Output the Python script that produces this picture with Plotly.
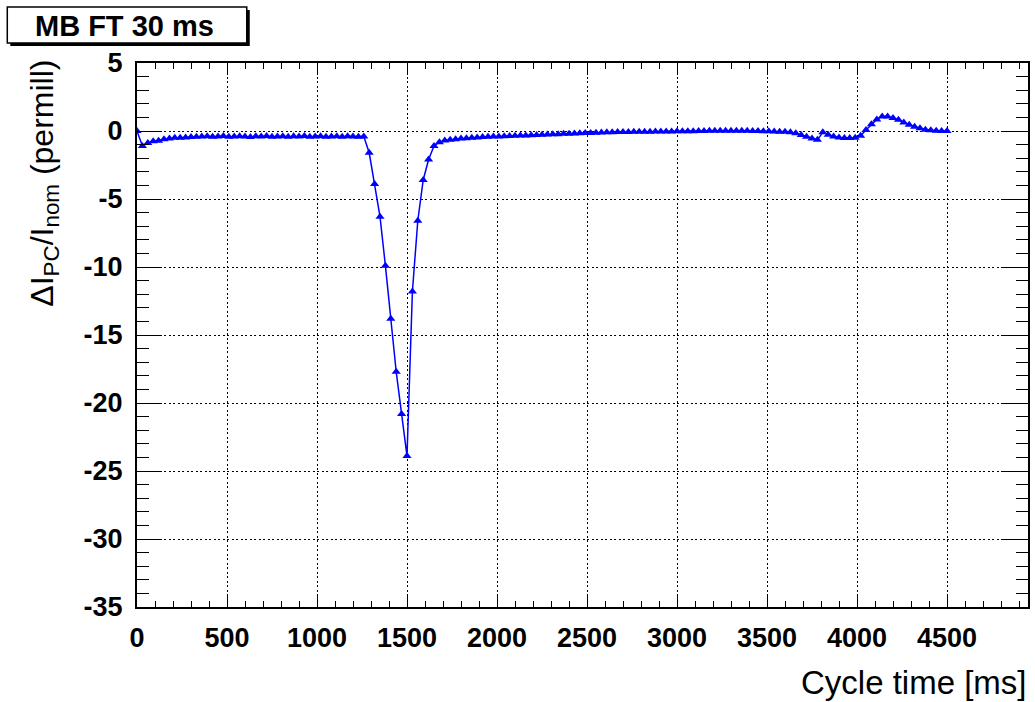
import plotly.graph_objects as go

# Sampling grid (ms), 30 ms step
cycle_time = list(range(0, 4501, 30))

# Delta I_PC / I_nom (permill)
start_vals = [0.0, -1.1, -0.88, -0.75, -0.72, -0.6, -0.55, -0.5, -0.5, -0.47, -0.45]
plateau_vals = [-0.42, -0.4, -0.38, -0.43, -0.4, -0.37, -0.42, -0.4, -0.38, -0.41,
                -0.44, -0.39, -0.4, -0.37, -0.42, -0.4, -0.38, -0.43, -0.39, -0.4,
                -0.37, -0.42, -0.4, -0.38, -0.43, -0.4, -0.39, -0.42, -0.38, -0.4]
dip_vals = [-0.42, -0.4, -1.6, -3.9, -6.3, -9.9, -13.8, -17.7, -20.8, -23.9,
            -11.8, -6.6, -3.6, -2.1, -1.1, -0.82]
recovery_vals = [-0.7, -0.65, -0.6, -0.56, -0.53, -0.5, -0.48, -0.45, -0.43, -0.41,
                 -0.4, -0.38, -0.37, -0.35, -0.34, -0.33, -0.32, -0.3, -0.28, -0.26,
                 -0.24, -0.23, -0.21, -0.2, -0.18, -0.16, -0.15, -0.14, -0.12, -0.11,
                 -0.1, -0.1, -0.08, -0.08]
flat_vals = [-0.07, -0.06, -0.06, -0.05, -0.05, -0.04, -0.04, -0.03, -0.03, -0.02,
             -0.02, -0.01, -0.01, 0.0, 0.0, 0.01, 0.01, 0.02, 0.02, 0.02,
             0.02, 0.01, 0.01, 0.0, 0.0, -0.01, -0.02, -0.03, -0.05, -0.05]
tail_vals = [-0.1, -0.17, -0.3, -0.42, -0.55, -0.65, -0.1, -0.27, -0.4, -0.48,
             -0.52, -0.52, -0.5, -0.35, 0.07, 0.5, 0.85, 1.07, 1.07, 0.95,
             0.82, 0.63, 0.46, 0.32, 0.2, 0.1, 0.05, 0.02, 0.0, 0.0]

delta_i = start_vals + plateau_vals + dip_vals + recovery_vals + flat_vals + tail_vals

x_range = [0, 4950]
y_range = [-35, 5]
x_tickvals = [0, 500, 1000, 1500, 2000, 2500, 3000, 3500, 4000, 4500]
y_tickvals = [5, 0, -5, -10, -15, -20, -25, -30, -35]

title_text = "MB FT 30 ms"
x_title = "Cycle time [ms]"
y_title = "ΔI<sub>PC</sub>/I<sub>nom</sub> (permill)"

W, H = 1035, 702
L, R, T, B = 137, 5, 63, 95
PW, PH = W - L - R, H - T - B
FONT = "Liberation Sans, Arial, sans-serif"


def px(xp):
    return (xp - L) / PW


def py(yp):
    return (H - B - yp) / PH


fig = go.Figure()
fig.add_trace(go.Scatter(
    x=cycle_time[:len(delta_i)], y=delta_i, mode="lines+markers",
    line=dict(color="#0000ff", width=1.5),
    marker=dict(symbol="triangle-up", size=8, color="#0000ff"),
    showlegend=False,
))

grid_dash = "2px,2.5px"
tick_font = dict(family=FONT, size=27, color="black", weight="bold")

fig.update_xaxes(
    range=x_range, tickvals=x_tickvals, ticktext=[str(v) for v in x_tickvals],
    showline=True, linecolor="black", linewidth=2, mirror="ticks",
    ticks="inside", ticklen=12, tickwidth=1, tickcolor="black",
    minor=dict(dtick=100, tick0=0, ticks="inside", ticklen=6, tickwidth=1,
               tickcolor="black", showgrid=False),
    showgrid=True, gridcolor="black", gridwidth=1, griddash=grid_dash,
    zeroline=False, tickfont=tick_font, ticklabelstandoff=6,
)
fig.update_yaxes(
    range=y_range, tickvals=y_tickvals, ticktext=[str(v) for v in y_tickvals],
    showline=True, linecolor="black", linewidth=2, mirror="ticks",
    ticks="inside", ticklen=25, tickwidth=1, tickcolor="black",
    minor=dict(dtick=1, tick0=0, ticks="inside", ticklen=12, tickwidth=1,
               tickcolor="black", showgrid=False),
    showgrid=True, gridcolor="black", gridwidth=1, griddash=grid_dash,
    zeroline=False, tickfont=tick_font, ticklabelstandoff=7,
)

# Title box with shadow
fig.add_shape(type="rect", xref="paper", yref="paper",
              x0=px(10), x1=px(250), y0=py(46), y1=py(10),
              fillcolor="black", line=dict(width=0), layer="above")
fig.add_shape(type="rect", xref="paper", yref="paper",
              x0=px(7), x1=px(247), y0=py(43), y1=py(7),
              fillcolor="white", line=dict(color="black", width=1.5), layer="above")
fig.add_annotation(text="<b>" + title_text + "</b>", xref="paper", yref="paper",
                   x=px(124), y=py(26), xanchor="center", yanchor="middle",
                   showarrow=False, font=dict(family=FONT, size=29, color="black"))

fig.add_annotation(text=x_title, xref="paper", yref="paper",
                   x=px(1031), y=py(682), xanchor="right", yanchor="middle",
                   showarrow=False, font=dict(family=FONT, size=33, color="black"))
fig.add_annotation(text=y_title, xref="paper", yref="paper",
                   x=px(44), y=py(58), xanchor="center", yanchor="top",
                   textangle=-90, showarrow=False,
                   font=dict(family=FONT, size=32, color="black"))

fig.update_layout(
    width=W, height=H, margin=dict(l=L, r=R, t=T, b=B),
    paper_bgcolor="white", plot_bgcolor="white",
)

fig.write_html("out.html")
